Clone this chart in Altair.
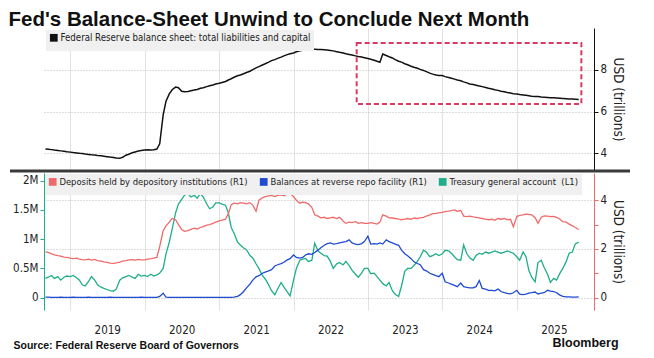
import altair as alt
import pandas as pd

FONT = "'Liberation Sans Narrow', 'DejaVu Sans Condensed', Roboto, sans-serif"
BOLD_FONT = "'Liberation Sans', Arial, sans-serif"

title_text = "Fed's Balance-Sheet Unwind to Conclude Next Month"
source_text = "Source: Federal Reserve Board of Governors"
brand_text = "Bloomberg"

bs_label = "Federal Reserve balance sheet: total liabilities and capital"
dep_label = "Deposits held by depository institutions (R1)"
rrp_label = "Balances at reverse repo facility (R1)"
tga_label = "Treasury general account\u00a0 (L1)"

# semi-monthly observation dates (1st and 15th), Sep 2018 .. Nov 2025
dates = pd.date_range("2018-09-01", "2025-11-01", freq="SMS").strftime("%Y-%m-%d").tolist()

# USD trillions
balance_sheet = (
    [4.20, 4.19, 4.17, 4.15, 4.13, 4.11, 4.09, 4.07]
    + [4.05, 4.03, 4.01, 3.99, 3.98, 3.96, 3.94, 3.92, 3.91, 3.89, 3.87, 3.85,
       3.83, 3.81, 3.79, 3.77, 3.75, 3.80, 3.90, 3.95, 4.02, 4.06, 4.10, 4.13]
    + [4.15, 4.16, 4.15, 4.16, 4.20, 4.45, 5.84, 6.50, 6.85, 7.05, 7.18, 7.15,
       6.98, 6.95, 6.97, 7.00, 7.04, 7.06, 7.12, 7.15, 7.20, 7.24, 7.28, 7.33]
    + [7.36, 7.40, 7.45, 7.52, 7.58, 7.65, 7.72, 7.76, 7.82, 7.88, 7.94, 8.02,
       8.10, 8.16, 8.24, 8.30, 8.38, 8.45, 8.50, 8.56, 8.62, 8.68, 8.74, 8.78]
    + [8.82, 8.88, 8.92, 8.95, 8.97, 8.99, 9.00, 9.00, 8.99, 8.98, 8.97, 8.96,
       8.94, 8.92, 8.88, 8.85, 8.82, 8.78, 8.75, 8.72, 8.68, 8.65, 8.62, 8.59]
    + [8.55, 8.52, 8.47, 8.42, 8.37, 8.77, 8.70, 8.64, 8.58, 8.50, 8.42, 8.38,
       8.30, 8.25, 8.18, 8.13, 8.08, 8.03, 7.98, 7.92, 7.85, 7.80, 7.76, 7.74]
    + [7.73, 7.68, 7.64, 7.60, 7.56, 7.52, 7.48, 7.43, 7.38, 7.33, 7.30, 7.27,
       7.23, 7.20, 7.16, 7.12, 7.09, 7.05, 7.02, 6.98, 6.95, 6.92, 6.89, 6.86]
    + [6.84, 6.82, 6.80, 6.78, 6.76, 6.74, 6.73, 6.72, 6.70, 6.69, 6.68, 6.67,
       6.66, 6.65, 6.64, 6.63, 6.62, 6.61, 6.60, 6.59, 6.58]
)

# USD trillions (right axis, R1)
deposits = (
    [1.88, 1.86, 1.80, 1.76, 1.72, 1.70, 1.66, 1.65]
    + [1.62, 1.60, 1.62, 1.58, 1.56, 1.55, 1.58, 1.54, 1.57, 1.52, 1.50, 1.47,
       1.45, 1.42, 1.41, 1.43, 1.46, 1.50, 1.52, 1.55, 1.56, 1.54, 1.57, 1.55]
    + [1.55, 1.58, 1.60, 1.62, 1.65, 2.10, 2.75, 2.95, 3.10, 3.25, 3.20, 3.00,
       2.80, 2.72, 2.75, 2.80, 2.85, 2.82, 2.88, 2.92, 2.98, 3.00, 3.05, 3.10]
    + [3.15, 3.18, 3.22, 3.45, 3.82, 3.88, 3.85, 3.90, 3.88, 3.85, 3.90, 3.80,
       3.55, 4.00, 4.10, 4.15, 4.18, 4.20, 4.15, 4.20, 4.22, 4.18, 4.25, 4.28]
    + [4.15, 4.00, 3.88, 3.92, 3.90, 3.85, 3.70, 3.40, 3.35, 3.28, 3.30, 3.25,
       3.28, 3.30, 3.25, 3.30, 3.15, 3.05, 3.10, 3.08, 3.12, 3.05, 3.08, 3.05]
    + [3.05, 3.08, 3.05, 3.02, 3.10, 3.40, 3.35, 3.28, 3.27, 3.25, 3.22, 3.20,
       3.22, 3.25, 3.22, 3.27, 3.25, 3.28, 3.30, 3.35, 3.40, 3.45, 3.46, 3.48]
    + [3.50, 3.53, 3.55, 3.57, 3.60, 3.55, 3.58, 3.35, 3.33, 3.35, 3.32, 3.30,
       3.28, 3.25, 3.22, 3.20, 3.22, 3.18, 3.25, 3.22, 3.25, 3.20, 3.22, 2.91]
    + [3.33, 3.38, 3.40, 3.43, 3.42, 3.40, 3.28, 3.05, 3.30, 3.36, 3.35, 3.33,
       3.34, 3.30, 3.22, 3.12, 3.10, 3.02, 2.95, 2.88, 2.80]
)

# USD trillions (right axis, R1)
reverse_repo = (
    [0.02, 0.02, 0.01, 0.01, 0.01, 0.02, 0.01, 0.01]
    + [0.01, 0.02, 0.01, 0.01, 0.01, 0.01, 0.02, 0.01, 0.01, 0.01, 0.01, 0.01,
       0.01, 0.02, 0.01, 0.01, 0.01, 0.01, 0.01, 0.01, 0.01, 0.01, 0.01, 0.02]
    + [0.01, 0.01, 0.01, 0.01, 0.01, 0.05, 0.18, 0.02, 0.01, 0.01, 0.01, 0.01,
       0.01, 0.01, 0.01, 0.01, 0.01, 0.01, 0.01, 0.01, 0.01, 0.01, 0.01, 0.01]
    + [0.01, 0.01, 0.01, 0.01, 0.01, 0.02, 0.05, 0.12, 0.25, 0.40, 0.55, 0.72,
       0.85, 0.90, 1.00, 1.05, 1.10, 1.15, 1.30, 1.35, 1.40, 1.45, 1.55, 1.60]
    + [1.75, 1.65, 1.62, 1.65, 1.75, 1.80, 1.78, 1.85, 1.95, 2.05, 2.15, 2.22,
       2.25, 2.20, 2.22, 2.25, 2.28, 2.30, 2.37, 2.25, 2.20, 2.18, 2.22, 2.30]
    + [2.52, 2.20, 2.22, 2.20, 2.25, 2.20, 2.37, 2.30, 2.25, 2.20, 2.15, 1.95,
       1.80, 1.72, 1.60, 1.47, 1.40, 1.35, 1.15, 1.10, 1.00, 0.95, 0.90, 0.86]
    + [1.00, 0.65, 0.60, 0.55, 0.50, 0.45, 0.60, 0.45, 0.42, 0.40, 0.40, 0.45,
       0.70, 0.38, 0.35, 0.30, 0.30, 0.28, 0.35, 0.25, 0.20, 0.17, 0.15, 0.20]
    + [0.30, 0.14, 0.12, 0.14, 0.18, 0.20, 0.23, 0.15, 0.18, 0.20, 0.30, 0.27,
       0.25, 0.20, 0.10, 0.05, 0.03, 0.03, 0.02, 0.02, 0.03]
)

# USD millions of millions (left axis, L1)
treasury_account = (
    [0.33, 0.35, 0.38, 0.33, 0.36, 0.30, 0.35, 0.37]
    + [0.36, 0.38, 0.34, 0.30, 0.22, 0.20, 0.28, 0.36, 0.30, 0.22, 0.18, 0.16,
       0.14, 0.12, 0.11, 0.15, 0.30, 0.34, 0.36, 0.38, 0.35, 0.33, 0.40, 0.37]
    + [0.38, 0.36, 0.40, 0.37, 0.39, 0.42, 0.50, 0.75, 0.95, 1.17, 1.45, 1.60,
       1.68, 1.75, 1.78, 1.72, 1.75, 1.70, 1.78, 1.72, 1.60, 1.52, 1.55, 1.62]
    + [1.62, 1.60, 1.58, 1.45, 1.20, 1.10, 0.95, 0.90, 0.85, 0.82, 0.72, 0.68,
       0.58, 0.50, 0.38, 0.32, 0.22, 0.12, 0.05, 0.15, 0.26, 0.18, 0.10, 0.03]
    + [0.30, 0.50, 0.64, 0.66, 0.67, 0.62, 0.64, 0.93, 0.80, 0.76, 0.72, 0.71,
       0.62, 0.50, 0.58, 0.60, 0.56, 0.62, 0.55, 0.47, 0.40, 0.35, 0.42, 0.50]
    + [0.50, 0.41, 0.42, 0.36, 0.30, 0.24, 0.20, 0.26, 0.12, 0.06, 0.02, 0.20,
       0.45, 0.50, 0.50, 0.55, 0.62, 0.70, 0.81, 0.78, 0.70, 0.72, 0.75, 0.72]
    + [0.75, 0.81, 0.80, 0.76, 0.70, 0.65, 0.64, 0.90, 0.75, 0.68, 0.64, 0.72,
       0.76, 0.74, 0.78, 0.76, 0.78, 0.80, 0.78, 0.76, 0.78, 0.80, 0.78, 0.76]
    + [0.70, 0.64, 0.78, 0.70, 0.47, 0.35, 0.27, 0.60, 0.64, 0.52, 0.40, 0.26,
       0.33, 0.30, 0.42, 0.50, 0.62, 0.76, 0.78, 0.92, 0.95]
)

# highlighted window (dashed box)
box_start = ["2022-11-07"]
box_end = ["2025-11-14"]
box_low = [6.37]
box_high = [9.30]

RED = "#ef6b6b"
BLUE = "#1f4bd1"
TEAL = "#1fae8a"
BOX = "#d63c63"
GRID = "#e2e2e2"
DOT = "#bdbdbd"

bs_df = pd.DataFrame({"date": dates, "value": balance_sheet, "series": bs_label})
box_df = pd.DataFrame({"start": box_start, "end": box_end, "low": box_low, "high": box_high})
flows_df = pd.concat([
    pd.DataFrame({"date": dates, "value": deposits, "series": dep_label}),
    pd.DataFrame({"date": dates, "value": reverse_repo, "series": rrp_label}),
])
tga_df = pd.DataFrame({"date": dates, "value": treasury_account, "series": tga_label})

x_scale = alt.Scale(domain=[alt.DateTime(year=2018, month=8, date=25),
                            alt.DateTime(year=2026, month=1, date=15)])
year_ticks = [alt.DateTime(year=y, month=1, date=1) for y in range(2019, 2026)]
even_only = "datum.value % 2 == 0 ? datum.label : ''"
even_grid = {"condition": {"test": "datum.value % 2 == 0", "value": 1}, "value": 0}

W = 550
TOP_H = 142

# ---------- top panel ----------
x_top = alt.X("date:T", scale=x_scale, title=None,
              axis=alt.Axis(values=year_ticks, labels=False, ticks=False, grid=True,
                            gridColor=GRID, domain=False))
top_line = alt.Chart(bs_df).mark_line(strokeWidth=1.5).encode(
    x=x_top,
    y=alt.Y("value:Q", scale=alt.Scale(domain=[3.19, 10.02], nice=False, zero=False),
            axis=alt.Axis(orient="right", values=[4, 5, 6, 7, 8, 9], labelExpr=even_only,
                          title="USD (trillions)", grid=True, gridDash=[1, 2],
                          gridColor=DOT, gridOpacity=even_grid,
                          domainColor="#111", tickColor="#111")),
    color=alt.Color("series:N", scale=alt.Scale(domain=[bs_label], range=["#111111"]),
                    legend=alt.Legend(title=None, orient="top-left", offset=2, padding=3,
                                      fillColor="#f0f0f0", symbolType="square",
                                      symbolSize=14, symbolStrokeWidth=4,
                                      labelFont=FONT, labelFontSize=9.6, labelLimit=0,
                                      labelOffset=2, labelColor="#222")),
)
top_box = alt.Chart(box_df).mark_rect(fillOpacity=0, stroke=BOX, strokeWidth=2,
                                      strokeDash=[5, 3]).encode(
    x="start:T", x2="end:T", y="low:Q", y2="high:Q")
separator = alt.Chart(box_df).mark_rule(color="#3a3a3a", strokeWidth=3).encode(
    x=alt.value(-34), x2=alt.value(W + 36), y=alt.value(TOP_H + 1))
top = alt.layer(top_line, top_box, separator).properties(width=W, height=TOP_H)

# ---------- bottom panel ----------
color_scale = alt.Scale(domain=[dep_label, rrp_label, tga_label], range=[RED, BLUE, TEAL])
bottom_legend = alt.Legend(title=None, orient="top-left", direction="horizontal",
                           offset=1, padding=3, fillColor="#f0f0f0", symbolType="square",
                           symbolSize=14, symbolStrokeWidth=4, labelFont=FONT,
                           labelFontSize=9.4, labelLimit=0, labelOffset=2,
                           labelColor="#222", columnPadding=5)
x_bot = alt.X("date:T", scale=x_scale,
              axis=alt.Axis(values=year_ticks, format="%Y", labelOffset=37, ticks=False,
                            domain=False, grid=True, gridColor=GRID, labelPadding=14,
                            labelFontSize=11.5, labelOverlap=False,
                            title=source_text, titleX=-31, titleY=35, titleAlign="left",
                            titleAnchor="start", titleBaseline="middle",
                            titleFont=BOLD_FONT, titleFontWeight="bold",
                            titleFontSize=10.5, titleColor="#111"))
tga_line = alt.Chart(tga_df).mark_line(strokeWidth=1.3).encode(
    x=x_bot,
    y=alt.Y("value:Q", scale=alt.Scale(domain=[-0.21, 2.13], nice=False, zero=False),
            axis=alt.Axis(orient="left", values=[0, 0.5, 1, 1.5, 2],
                          labelExpr="datum.value == 0 ? '0' : datum.value + 'M'",
                          grid=False, title=None, domainColor=TEAL, tickColor=TEAL)),
    color=alt.Color("series:N", scale=color_scale, legend=bottom_legend),
)
flow_lines = alt.Chart(flows_df).mark_line(strokeWidth=1.3).encode(
    x=x_bot,
    y=alt.Y("value:Q", scale=alt.Scale(domain=[-0.51, 5.12], nice=False, zero=False),
            axis=alt.Axis(orient="right", values=[0, 1, 2, 3, 4], labelExpr=even_only,
                          title="USD (trillions)", grid=True, gridDash=[1, 2],
                          gridColor=DOT, gridOpacity=even_grid,
                          domainColor=RED, tickColor=RED)),
    color=alt.Color("series:N", scale=color_scale, legend=bottom_legend),
)
bottom = alt.layer(tga_line, flow_lines).resolve_scale(y="independent").properties(
    width=W, height=137,
    title=alt.TitleParams(brand_text, orient="bottom", anchor="end", font=BOLD_FONT,
                          fontSize=12.5, fontWeight="bold", color="#111", offset=-14,
                          dx=-6),
)

chart = alt.vconcat(top, bottom, spacing=0).resolve_scale(
    color="independent", x="shared"
).properties(
    title=alt.TitleParams(title_text, anchor="start", font=BOLD_FONT, fontSize=20.5,
                          fontWeight="bold", color="#111", offset=-2),
    padding={"left": 0, "top": 1, "right": 6, "bottom": 0},
).configure_view(stroke=None).configure_axis(
    labelFont=FONT, labelFontSize=11.5, labelColor="#222", titleFont=FONT,
    titleFontSize=13.5, titleFontWeight="normal", titleColor="#222", tickSize=4,
)

chart.save("out.html", embed_options={"renderer": "svg", "actions": False})
